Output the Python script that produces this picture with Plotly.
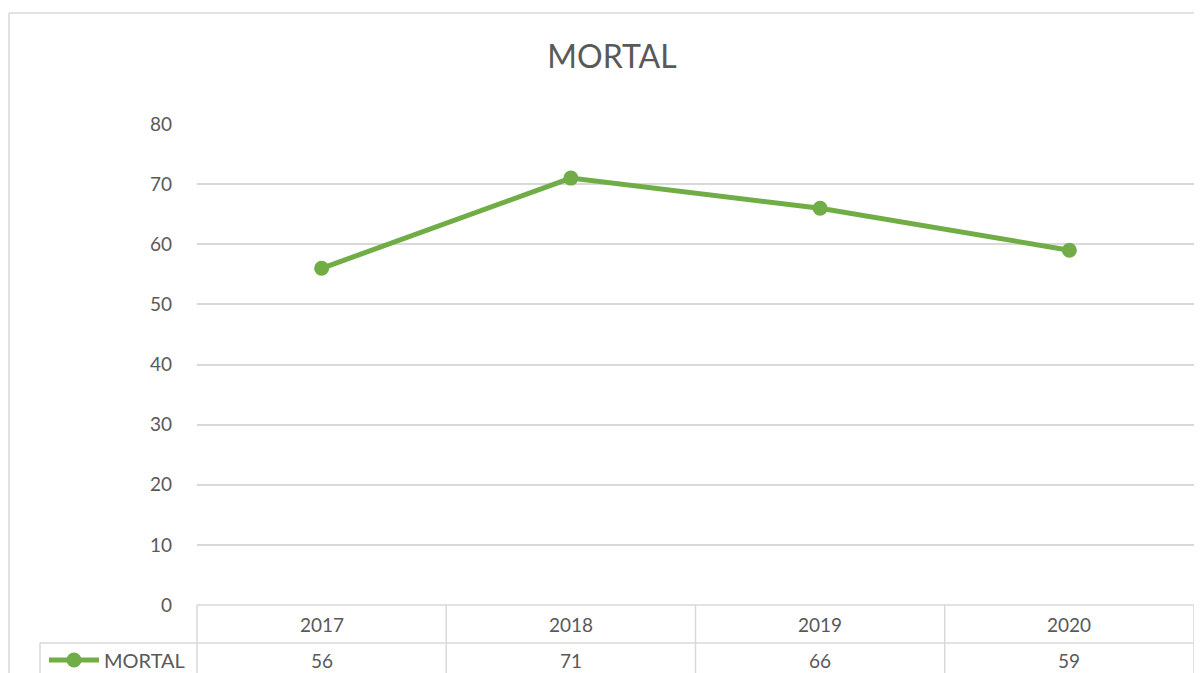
import plotly.graph_objects as go

categories = ["2017", "2018", "2019", "2020"]
mortal = [56, 71, 66, 59]
series_name = "MORTAL"
y_ticks = [0, 10, 20, 30, 40, 50, 60, 70, 80]

SW, SH = 1202, 673          # screen size
OFF = 8                     # default page body margin
W, H = SW - OFF, SH - OFF   # figure size so it fits the window exactly
GREEN = "#70AD47"
TXT = "#595959"
GRID = "#D9D9D9"
FONT = "Lato, 'Open Sans', sans-serif"

def px(x):
    return (x - OFF) / W

def py(y):
    return 1 - (y - OFF) / H

x0, x1 = 197, 1194
y_top, y_zero = 124, 605
row1_bot = 643

fig = go.Figure()
fig.add_trace(go.Scatter(
    x=list(range(len(categories))), y=mortal, mode="lines+markers", name=series_name,
    line=dict(color=GREEN, width=5),
    marker=dict(color=GREEN, size=15),
    showlegend=True,
))

shapes = []
def line(xa, ya, xb, yb, color=GRID, w=1.5):
    shapes.append(dict(type="line", xref="paper", yref="paper",
                       x0=px(xa), y0=py(ya), x1=px(xb), y1=py(yb),
                       line=dict(color=color, width=w)))

# outer chart border
line(9, 13, 9, SH + 5, w=1.5)
line(9, 13, SW + 5, 13, w=1.5)
# table lines
line(x0, y_zero, x1, y_zero)
line(40, row1_bot, x1, row1_bot)
line(40, row1_bot, 40, SH + 5)
n = len(categories)
for i in range(n + 1):
    xx = x0 + (x1 - x0) * i / n
    line(xx, y_zero, xx, SH + 5)

annotations = []
for i, (cat, v) in enumerate(zip(categories, mortal)):
    annotations.append(dict(x=i, xref="x", y=py(624), yref="paper",
                            text=cat, showarrow=False, yanchor="middle",
                            font=dict(size=19, color=TXT, family=FONT)))
    annotations.append(dict(x=i, xref="x", y=py(660), yref="paper",
                            text=str(v), showarrow=False, yanchor="middle",
                            font=dict(size=19, color=TXT, family=FONT)))

fig.update_layout(
    width=W, height=H,
    margin=dict(l=0, r=0, t=0, b=0, autoexpand=False),
    paper_bgcolor="white", plot_bgcolor="white",
    title=dict(text="MORTAL", x=px(612), xanchor="center",
               y=py(57), yanchor="middle",
               font=dict(size=32, color=TXT, family=FONT)),
    xaxis=dict(range=[-0.5, n - 0.5], domain=[px(x0), px(x1)],
               showticklabels=False, showgrid=False, zeroline=False, showline=False),
    yaxis=dict(range=[0, 80], domain=[py(y_zero), py(y_top)],
               tickvals=y_ticks, showgrid=True, gridcolor=GRID, gridwidth=1.5,
               zeroline=False, showline=False, ticks="", ticklabelstandoff=24,
               tickfont=dict(size=19, color=TXT, family=FONT)),
    legend=dict(x=px(44), xanchor="left", y=py(660), yanchor="middle",
                bgcolor="rgba(0,0,0,0)", font=dict(size=20, color=TXT, family=FONT),
                itemwidth=50, tracegroupgap=0),
    shapes=shapes,
    annotations=annotations,
    showlegend=True,
)

fig.write_html("out.html")
